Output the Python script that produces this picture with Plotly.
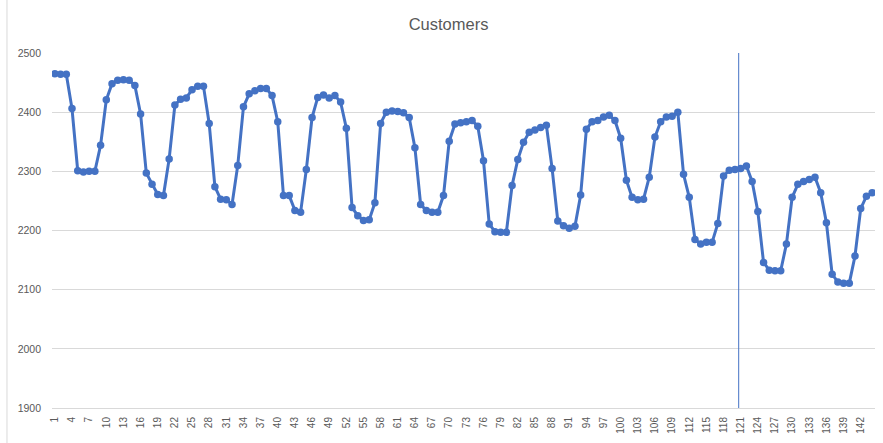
import plotly.graph_objects as go

# Customer counts per period (1..144)
periods = list(range(1, 145))
customers = [
    2465, 2464, 2464, 2406, 2301, 2299, 2300, 2300, 2344, 2421,
    2448, 2454, 2455, 2454, 2445, 2397, 2297, 2278, 2261, 2259,
    2321, 2412, 2422, 2424, 2438, 2444, 2444, 2381, 2274, 2253,
    2252, 2244, 2310, 2409, 2431, 2436, 2440, 2440, 2428, 2384,
    2259, 2259, 2234, 2231, 2303, 2391, 2425, 2429, 2424, 2428,
    2417, 2373, 2239, 2225, 2217, 2218, 2247, 2381, 2400, 2402,
    2401, 2399, 2391, 2340, 2244, 2234, 2231, 2231, 2259, 2351,
    2380, 2382, 2384, 2386, 2376, 2318, 2211, 2198, 2197, 2197,
    2276, 2320, 2349, 2366, 2370, 2374, 2378, 2305, 2216, 2208,
    2204, 2207, 2260, 2371, 2384, 2386, 2392, 2395, 2386, 2356,
    2285, 2256, 2252, 2253, 2290, 2358, 2384, 2392, 2393, 2400,
    2295, 2256, 2185, 2177, 2180, 2180, 2212, 2292, 2302, 2303,
    2305, 2309, 2283, 2232, 2146, 2133, 2132, 2132, 2177, 2256,
    2278, 2283, 2286, 2290, 2264, 2213, 2126, 2113, 2111, 2111,
    2157, 2237, 2258, 2264,
]

# Category labels shown on the x axis (every third period)
tick_periods = list(range(1, 145, 3))
tick_labels = [str(p) for p in tick_periods]

y_ticks = [1900, 2000, 2100, 2200, 2300, 2400, 2500]

# Position of the vertical marker line
marker_period = 120.65

blue = "#4472C4"
grey_text = "#595959"
grid = "#D9D9D9"

fig = go.Figure()
fig.add_trace(go.Scatter(
    x=periods, y=customers, mode="lines+markers",
    line=dict(color=blue, width=3),
    marker=dict(color=blue, size=7.5),
    showlegend=False, hoverinfo="x+y",
))

fig.add_shape(type="line", xref="x", yref="y",
              x0=marker_period, x1=marker_period, y0=1900, y1=2500,
              line=dict(color=blue, width=1))

# chart-area border on the left
fig.add_shape(type="line", xref="paper", yref="paper",
              x0=-0.0547, x1=-0.0547, y0=-0.11, y1=1.16,
              line=dict(color="#D9D9D9", width=1))

fig.update_layout(
    width=883, height=443,
    margin=dict(l=52, r=8, t=53, b=35),
    paper_bgcolor="white", plot_bgcolor="white",
    title=dict(text="Customers", x=0.508, xanchor="center", y=0.945, yanchor="middle",
               xref="container", yref="container",
               font=dict(family="Liberation Sans, Arial", size=16.5, color=grey_text)),
    font=dict(family="Liberation Sans, Arial", size=10, color=grey_text),
)

fig.update_xaxes(
    range=[0.5, 144.5], tickmode="array", tickvals=tick_periods, ticktext=tick_labels,
    tickangle=-90, showgrid=False, zeroline=False,
    showline=True, linecolor=grid, linewidth=1,
    ticks="", ticklabelstandoff=4, tickfont=dict(size=10, color=grey_text),
)
fig.update_yaxes(
    range=[1900, 2500], tickmode="array", tickvals=y_ticks,
    showgrid=True, gridcolor=grid, gridwidth=1, zeroline=False,
    showline=False, ticks="", ticklen=0, ticklabelstandoff=10,
    tickfont=dict(size=10.5, color=grey_text),
)

fig.write_html("out.html")
